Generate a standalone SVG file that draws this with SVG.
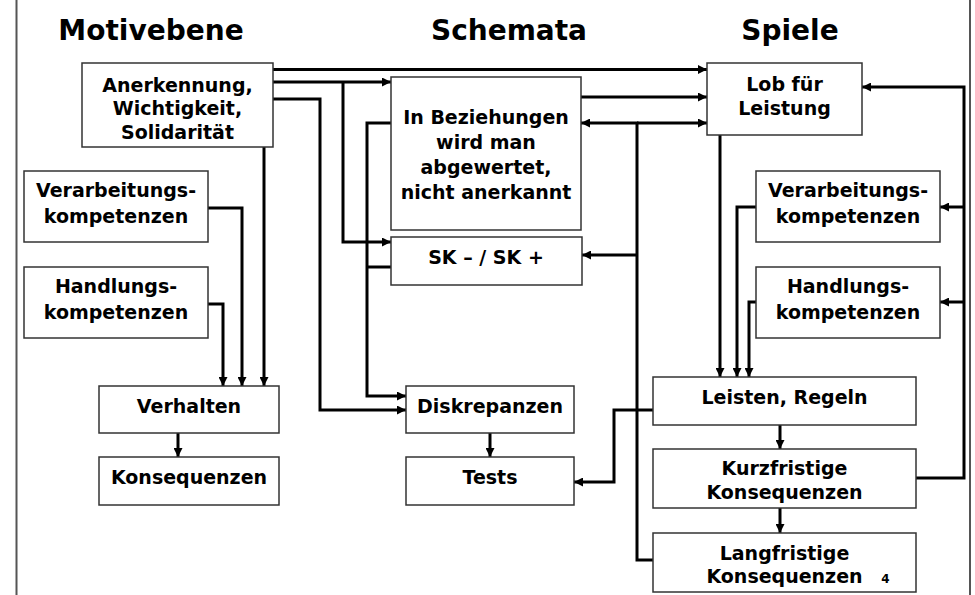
<svg xmlns="http://www.w3.org/2000/svg" width="975" height="595" viewBox="0 0 975 595">
<style>
.t{font-family:"DejaVu Sans","Verdana",sans-serif;font-weight:bold;fill:#000;text-anchor:middle}
.h{font-size:28px}
.b{font-size:19px}
.box{fill:#fff;stroke:#333;stroke-width:1.5}
.c{fill:none;stroke:#000;stroke-width:3;stroke-linejoin:miter}
.frame{stroke:#555;stroke-width:2}
</style>
<defs>
<marker id="a" viewBox="0 0 10 10" refX="10" refY="5" markerWidth="10" markerHeight="9" markerUnits="userSpaceOnUse" orient="auto">
<path d="M0,0 L10,5 L0,10 z" fill="#000"/>
</marker>
</defs>
<rect width="975" height="595" fill="#fff"/>
<g id="frame">
<line class="frame" x1="16.5" y1="0" x2="16.5" y2="595"/>
<line class="frame" x1="970" y1="0" x2="970" y2="595"/>
</g>
<g id="titles">
<text class="t h" x="151" y="40">Motivebene</text>
<text class="t h" x="509" y="40">Schemata</text>
<text class="t h" x="790" y="40">Spiele</text>
</g>
<g id="connectors">
<path class="c" d="M273,69.5 H707" marker-end="url(#a)"/>
<path class="c" d="M273,82 H391" marker-end="url(#a)"/>
<path class="c" d="M343,82 V242 H391" marker-end="url(#a)"/>
<path class="c" d="M273,99 H320 V410 H406" marker-end="url(#a)"/>
<path class="c" d="M264,147 V386" marker-end="url(#a)"/>
<path class="c" d="M208,208 H242 V386" marker-end="url(#a)"/>
<path class="c" d="M208,304 H223 V386" marker-end="url(#a)"/>
<path class="c" d="M178,433 V457" marker-end="url(#a)"/>
<path class="c" d="M581,97 H707" marker-end="url(#a)"/>
<path class="c" d="M391,123 H367 V396 H406" marker-end="url(#a)"/>
<path class="c" d="M391,267 H367"/>
<path class="c" d="M653,560 H637 V123 H581" marker-end="url(#a)"/>
<path class="c" d="M637,123 H707" marker-end="url(#a)"/>
<path class="c" d="M637,255 H582" marker-end="url(#a)"/>
<path class="c" d="M490,433 V457" marker-end="url(#a)"/>
<path class="c" d="M653,410 H614 V482 H574" marker-end="url(#a)"/>
<path class="c" d="M720,135 V377" marker-end="url(#a)"/>
<path class="c" d="M756,207 H737 V377" marker-end="url(#a)"/>
<path class="c" d="M756,302 H749 V377" marker-end="url(#a)"/>
<path class="c" d="M780,425 V449" marker-end="url(#a)"/>
<path class="c" d="M780,508 V533" marker-end="url(#a)"/>
<path class="c" d="M916,478 H964 V87 H862" marker-end="url(#a)"/>
<path class="c" d="M964,207 H940" marker-end="url(#a)"/>
<path class="c" d="M964,302 H940" marker-end="url(#a)"/>
</g>
<g id="anerkennung">
<rect class="box" x="82" y="63" width="191" height="84"/>
<text class="t b" x="177.5" y="92">Anerkennung,</text>
<text class="t b" x="177.5" y="115">Wichtigkeit,</text>
<text class="t b" x="177.5" y="139">Solidarität</text>
</g>
<g id="verarbeitung-links">
<rect class="box" x="24" y="171" width="184" height="71"/>
<text class="t b" x="116" y="197">Verarbeitungs-</text>
<text class="t b" x="116" y="223">kompetenzen</text>
</g>
<g id="handlung-links">
<rect class="box" x="24" y="267" width="184" height="71"/>
<text class="t b" x="116" y="293">Handlungs-</text>
<text class="t b" x="116" y="319">kompetenzen</text>
</g>
<g id="verhalten">
<rect class="box" x="99" y="386" width="180" height="47"/>
<text class="t b" x="189" y="413">Verhalten</text>
</g>
<g id="konsequenzen">
<rect class="box" x="99" y="457" width="180" height="48"/>
<text class="t b" x="189" y="484">Konsequenzen</text>
</g>
<g id="beziehungen">
<rect class="box" x="391" y="77" width="190" height="153"/>
<text class="t b" x="486" y="124">In Beziehungen</text>
<text class="t b" x="486" y="149">wird man</text>
<text class="t b" x="486" y="174">abgewertet,</text>
<text class="t b" x="486" y="199">nicht anerkannt</text>
</g>
<g id="sk">
<rect class="box" x="391" y="237" width="191" height="48"/>
<text class="t b" x="486" y="264">SK – / SK +</text>
</g>
<g id="diskrepanzen">
<rect class="box" x="406" y="386" width="168" height="47"/>
<text class="t b" x="490" y="413">Diskrepanzen</text>
</g>
<g id="tests">
<rect class="box" x="406" y="457" width="168" height="48"/>
<text class="t b" x="490" y="484">Tests</text>
</g>
<g id="lob">
<rect class="box" x="707" y="63" width="155" height="72"/>
<text class="t b" x="784.5" y="91">Lob für</text>
<text class="t b" x="784.5" y="115">Leistung</text>
</g>
<g id="verarbeitung-rechts">
<rect class="box" x="756" y="171" width="184" height="71"/>
<text class="t b" x="848" y="197">Verarbeitungs-</text>
<text class="t b" x="848" y="223">kompetenzen</text>
</g>
<g id="handlung-rechts">
<rect class="box" x="756" y="267" width="184" height="71"/>
<text class="t b" x="848" y="293">Handlungs-</text>
<text class="t b" x="848" y="319">kompetenzen</text>
</g>
<g id="leisten">
<rect class="box" x="653" y="377" width="263" height="48"/>
<text class="t b" x="784.5" y="404">Leisten, Regeln</text>
</g>
<g id="kurzfristig">
<rect class="box" x="653" y="449" width="263" height="59"/>
<text class="t b" x="784.5" y="475">Kurzfristige</text>
<text class="t b" x="784.5" y="499">Konsequenzen</text>
</g>
<g id="langfristig">
<rect class="box" x="653" y="533" width="263" height="59"/>
<text class="t b" x="784.5" y="560">Langfristige</text>
<text class="t b" x="784.5" y="583">Konsequenzen</text>
<text class="t" style="font-size:12px" x="885.5" y="583">4</text>
</g>
</svg>
